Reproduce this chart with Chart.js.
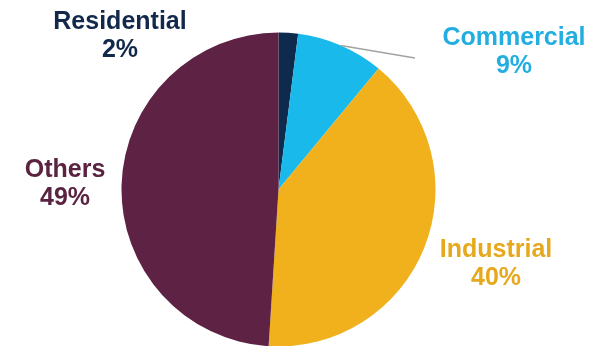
<!DOCTYPE html>
<html>
<head>
<meta charset="utf-8">
<script src="https://cdn.jsdelivr.net/npm/chart.js@4"></script>
<style>
  html, body { margin: 0; padding: 0; background: #ffffff; }
  #wrap { width: 589px; height: 346px; }
</style>
</head>
<body>
<div id="wrap"><canvas id="myChart" width="589" height="346"></canvas></div>
<script>
// Sector shares (%)
const sectors = ['Residential', 'Commercial', 'Industrial', 'Others'];
const shares = [2, 9, 40, 49];
const sliceColors = ['#0e2a4c', '#19b9ec', '#f0b11d', '#5e2244'];
const textColors = ['#13294b', '#22aee0', '#e6a91e', '#5a2341'];

// Label anchors (centre x, baseline of first line)
const labelSpots = [
    { x: 120, y: 29 },
    { x: 514, y: 45 },
    { x: 496, y: 257 },
    { x: 65, y: 177 }
];

// Labels with category name + percentage, plus leader line for Commercial
const sectorLabels = {
    id: 'sectorLabels',
    afterDraw(chart) {
        const ctx = chart.ctx;
        const arcs = chart.getDatasetMeta(0).data;

        // leader line from the middle of the Commercial slice
        const a = arcs[1];
        const mid = (a.startAngle + a.endAngle) / 2;
        const sx = a.x + Math.cos(mid) * a.outerRadius;
        const sy = a.y + Math.sin(mid) * a.outerRadius;
        ctx.save();
        ctx.strokeStyle = '#a3a3a3';
        ctx.lineWidth = 1.5;
        ctx.beginPath();
        ctx.moveTo(sx, sy);
        ctx.lineTo(403, 56);
        ctx.lineTo(415, 58);
        ctx.stroke();
        ctx.restore();

        ctx.save();
        ctx.font = 'bold 25px "Liberation Sans", Arial, sans-serif';
        ctx.textAlign = 'center';
        ctx.textBaseline = 'alphabetic';
        sectors.forEach((name, i) => {
            const p = labelSpots[i];
            ctx.fillStyle = textColors[i];
            ctx.fillText(name, p.x, p.y);
            ctx.fillText(shares[i] + '%', p.x, p.y + 28);
        });
        ctx.restore();
    }
};

const ctx = document.getElementById('myChart').getContext('2d');
new Chart(ctx, {
    type: 'pie',
    data: {
        labels: sectors,
        datasets: [{
            data: shares,
            backgroundColor: sliceColors,
            borderWidth: 0,
            radius: 157
        }]
    },
    options: {
        responsive: false,
        animation: false,
        layout: {
            padding: { top: 33, bottom: 0, left: 0, right: 32 }
        },
        plugins: {
            legend: { display: false },
            tooltip: { enabled: false }
        }
    },
    plugins: [sectorLabels]
});
</script>
</body>
</html>
